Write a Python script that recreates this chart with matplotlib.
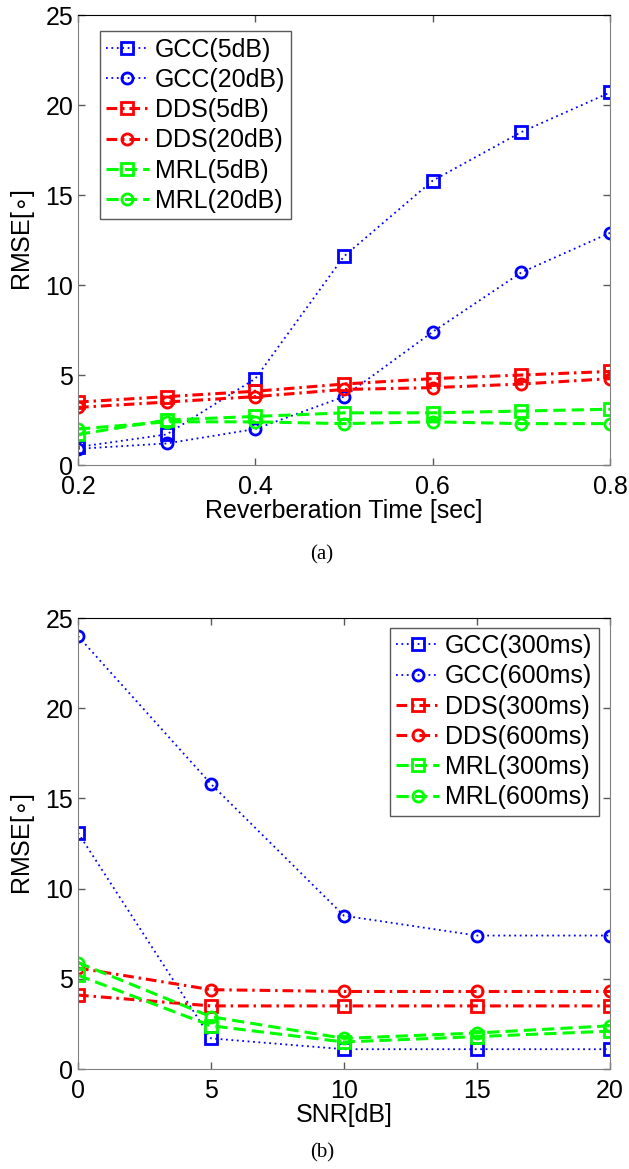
import matplotlib
matplotlib.use("Agg")
import matplotlib.pyplot as plt

plt.rcParams['font.family'] = ['Liberation Sans', 'DejaVu Sans']
plt.rcParams['mathtext.fontset'] = 'dejavusans'

# (a) RMSE vs reverberation time
rt = [0.2, 0.3, 0.4, 0.5, 0.6, 0.7, 0.8]
gcc_5db = [1.0, 1.7, 4.8, 11.6, 15.8, 18.5, 20.7]
gcc_20db = [0.9, 1.2, 2.0, 3.8, 7.4, 10.7, 12.9]
dds_5db = [3.5, 3.8, 4.1, 4.5, 4.8, 5.0, 5.2]
dds_20db = [3.2, 3.5, 3.8, 4.2, 4.3, 4.5, 4.8]
mrl_5db = [1.7, 2.5, 2.7, 2.9, 2.9, 3.0, 3.1]
mrl_20db = [2.0, 2.4, 2.4, 2.3, 2.4, 2.3, 2.3]

# (b) RMSE vs SNR
snr = [0, 5, 10, 15, 20]
gcc_300 = [13.1, 1.7, 1.1, 1.1, 1.1]
gcc_600 = [24.0, 15.8, 8.5, 7.4, 7.4]
dds_300 = [4.1, 3.5, 3.5, 3.5, 3.5]
dds_600 = [5.6, 4.4, 4.3, 4.3, 4.3]
mrl_300 = [5.2, 2.4, 1.5, 1.8, 2.1]
mrl_600 = [5.9, 2.9, 1.7, 2.0, 2.4]

BLUE, RED, GREEN = '#0000ff', '#ff0000', '#00ff00'
DOT = (0, (1, 2))
DASHDOT = (0, (3.5, 1.6, 0.8, 1.6))
DASH = (0, (4, 2))


def style_axes(ax):
    ax.tick_params(direction='in', length=5, width=1, top=True, right=True,
                   labelsize=18, colors='0.35', labelcolor='black', pad=3.5)
    ax.tick_params(axis='x', pad=7)
    for side in ['left', 'right', 'bottom']:
        ax.spines[side].set_color('0.5')
    ax.spines['top'].set_color('black')
    ax.set_ylabel('RMSE[$\\circ$]', fontsize=18, labelpad=6)


def draw(ax, x, series, labels):
    styles = [(BLUE, 's', DOT, 1.3), (BLUE, 'o', DOT, 1.3),
              (RED, 's', DASHDOT, 2.2), (RED, 'o', DASHDOT, 2.2),
              (GREEN, 's', DASH, 2.2), (GREEN, 'o', DASH, 2.2)]
    for ys, lab, (c, m, ls, lw) in zip(series, labels, styles):
        ax.plot(x, ys, color=c, marker=m, linestyle=ls, linewidth=lw,
                markersize=8, markeredgewidth=2, markerfacecolor='none', label=lab)


def add_legend(ax, loc, anchor):
    leg = ax.legend(loc=loc, bbox_to_anchor=anchor, borderaxespad=0,
                    fontsize=18, handlelength=1.7, handletextpad=0.25, labelspacing=0.25,
                    borderpad=0.25, fancybox=False, framealpha=1)
    leg.get_frame().set_edgecolor('0.35')
    leg.get_frame().set_linewidth(1)
    return leg


fig = plt.figure(figsize=(6.29, 11.69), dpi=100)

ax1 = fig.add_axes([0.124, 0.6022, 0.8458, 0.3849])
draw(ax1, rt, [gcc_5db, gcc_20db, dds_5db, dds_20db, mrl_5db, mrl_20db],
     ['GCC(5dB)', 'GCC(20dB)', 'DDS(5dB)', 'DDS(20dB)', 'MRL(5dB)', 'MRL(20dB)'])
ax1.set_xlim(0.2, 0.8)
ax1.set_ylim(0, 25)
ax1.set_xticks([0.2, 0.4, 0.6, 0.8])
ax1.set_yticks([0, 5, 10, 15, 20, 25])
style_axes(ax1)
ax1.set_xlabel('Reverberation Time [sec]', fontsize=18, labelpad=0)
add_legend(ax1, 'upper left', (0.041, 0.964))

ax2 = fig.add_axes([0.124, 0.0855, 0.8458, 0.3858])
draw(ax2, snr, [gcc_300, gcc_600, dds_300, dds_600, mrl_300, mrl_600],
     ['GCC(300ms)', 'GCC(600ms)', 'DDS(300ms)', 'DDS(600ms)', 'MRL(300ms)', 'MRL(600ms)'])
ax2.set_xlim(0, 20)
ax2.set_ylim(0, 25)
ax2.set_xticks([0, 5, 10, 15, 20])
ax2.set_yticks([0, 5, 10, 15, 20, 25])
style_axes(ax2)
ax2.set_xlabel('SNR[dB]', fontsize=18, labelpad=0)
add_legend(ax2, 'upper right', (0.979, 0.978))

fig.text(0.512, 1 - 555 / 1169, '(a)', ha='center', va='center',
         fontsize=15, family=['Liberation Serif', 'DejaVu Serif'])
fig.text(0.512, 1 - 1153 / 1169, '(b)', ha='center', va='center',
         fontsize=15, family=['Liberation Serif', 'DejaVu Serif'])

fig.savefig('out.png', dpi=100)
